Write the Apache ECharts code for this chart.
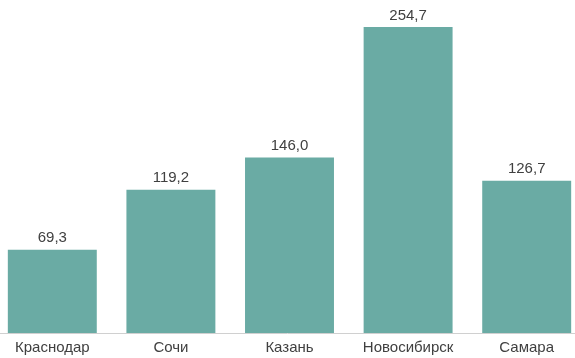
<!DOCTYPE html>
<html>
<head>
<meta charset="utf-8">
<script src="https://cdn.jsdelivr.net/npm/echarts@6/dist/echarts.min.js"></script>
<style>
  html, body { margin: 0; padding: 0; background: #fff; }
  #chart { width: 575px; height: 358px; }
</style>
</head>
<body>
<div id="chart"></div>
<script>
const cities = ["Краснодар", "Сочи", "Казань", "Новосибирск", "Самара"];
const values = [69.3, 119.2, 146.0, 254.7, 126.7];

const chart = echarts.init(document.getElementById("chart"));
chart.setOption({
  animation: false,
  grid: { left: -7, right: -11, top: 27, bottom: 25, outerBoundsMode: "none", containLabel: false },
  xAxis: {
    type: "category",
    data: cities,
    axisTick: { show: false },
    axisLine: { lineStyle: { color: "#d0d0d0", width: 1 } },
    axisLabel: {
      color: "#404040",
      fontFamily: "Liberation Sans",
      fontSize: 15,
      margin: 7
    }
  },
  yAxis: {
    type: "value",
    min: 0,
    max: 254.7,
    show: false
  },
  series: [
    {
      type: "bar",
      data: values,
      barWidth: "75%",
      itemStyle: { color: "#6aaba4" },
      label: {
        show: true,
        position: "top",
        distance: 4,
        color: "#404040",
        fontFamily: "Liberation Sans",
        fontSize: 15,
        formatter: (p) => p.value.toFixed(1).replace(".", ",")
      }
    }
  ]
});
</script>
</body>
</html>
